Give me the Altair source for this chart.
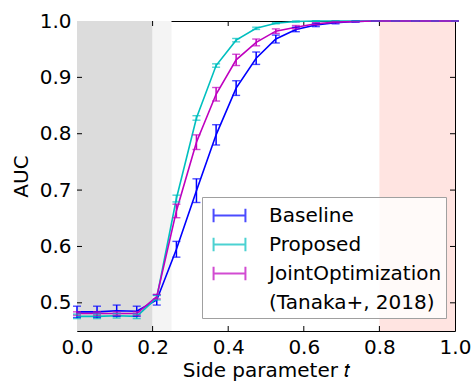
import altair as alt
import pandas as pd

# ---- data ----
t = [0.0, 0.053, 0.105, 0.158, 0.211, 0.263, 0.316, 0.368, 0.421, 0.474,
     0.526, 0.579, 0.632, 0.684, 0.737, 0.789, 0.842, 0.895, 0.947, 1.0]

baseline = [0.484, 0.484, 0.486, 0.485, 0.505, 0.595, 0.699, 0.798, 0.881, 0.934,
            0.968, 0.985, 0.993, 0.997, 0.999, 1.0, 1.0, 1.0, 1.0, 1.0]
baseline_err = [0.010, 0.010, 0.010, 0.009, 0.009, 0.014, 0.021, 0.018, 0.013, 0.011,
                0.007, 0.004, 0.003, 0.002, 0.001, 0.0, 0.0, 0.0, 0.0, 0.0]

proposed = [0.476, 0.476, 0.477, 0.476, 0.509, 0.685, 0.828, 0.921, 0.966, 0.987,
            0.996, 0.999, 1.0, 1.0, 1.0, 1.0, 1.0, 1.0, 1.0, 1.0]
proposed_err = [0.004, 0.004, 0.004, 0.004, 0.004, 0.006, 0.004, 0.003, 0.003, 0.002,
                0.001, 0.001, 0.0, 0.0, 0.0, 0.0, 0.0, 0.0, 0.0, 0.0]

joint = [0.481, 0.481, 0.481, 0.481, 0.511, 0.663, 0.785, 0.870, 0.931, 0.962,
         0.982, 0.989, 0.995, 0.998, 0.999, 1.0, 1.0, 1.0, 1.0, 1.0]
joint_err = [0.003, 0.003, 0.003, 0.003, 0.004, 0.012, 0.013, 0.012, 0.010, 0.006,
             0.004, 0.003, 0.002, 0.001, 0.0, 0.0, 0.0, 0.0, 0.0, 0.0]

series = ["Baseline", "Proposed", "JointOptimization"]
legend_labels = ["Baseline", "Proposed", "JointOptimization", "(Tanaka+, 2018)"]
colors = ["#0000ff", "#00bfbf", "#bf00bf", "transparent"]

span_start = [0.0, 0.2, 0.8]
span_end = [0.2, 0.25, 1.0]
span_color = ["#dcdcdc", "#f4f4f4", "#ffe4e1"]

x_ticks = [0.0, 0.2, 0.4, 0.6, 0.8, 1.0]
y_ticks = [0.5, 0.6, 0.7, 0.8, 0.9, 1.0]
x_minor = [0.2, 0.4, 0.6, 0.8]
y_minor = [0.5, 0.6, 0.7, 0.8, 0.9]

# ---- tables ----
rows = []
for name, vals, errs in zip(series, [baseline, proposed, joint],
                            [baseline_err, proposed_err, joint_err]):
    for ti, v, e in zip(t, vals, errs):
        rows.append({"t": ti, "auc": v, "lo": v - e, "hi": v + e, "method": name})
df = pd.DataFrame(rows)
spans = pd.DataFrame({"x0": span_start, "x1": span_end, "c": span_color})
xt = pd.DataFrame({"v": x_minor})
yt = pd.DataFrame({"v": y_minor})

W, H = 378, 310
FONT = "DejaVu Sans"

xs = alt.Scale(domain=[0, 1], nice=False, zero=False)
ys = alt.Scale(domain=[0.45, 1.0], nice=False, zero=False)
xa = alt.Axis(values=x_ticks, format=".1f", title="Side parameter 𝑡",
              ticks=False, domain=False, grid=False, labelPadding=6,
              titlePadding=3, labelFlush=False)
ya = alt.Axis(values=y_ticks, format=".1f", title="AUC",
              ticks=False, domain=False, grid=False, labelPadding=6,
              titlePadding=8, labelFlush=False)


def X(f):
    return alt.X(f, type="quantitative", scale=xs, axis=xa)


def Y(f):
    return alt.Y(f, type="quantitative", scale=ys, axis=ya)


leg = alt.Legend(
    title=None, orient="none", legendX=125, legendY=176,
    symbolType="M-1.18,0H1.18M-1.18,-0.5V0.5M1.18,-0.5V0.5",
    symbolSize=729, symbolStrokeWidth=2, symbolFillColor="transparent",
    symbolOffset=9, labelOffset=25, rowPadding=3, padding=4,
    fillColor="rgba(255,255,255,0.8)", strokeColor="#a0a0a0", cornerRadius=0,
    labelFont=FONT, labelFontSize=20, labelColor="black", labelLimit=400,
)
col = alt.Color("method:N", scale=alt.Scale(domain=legend_labels, range=colors),
                legend=leg)

bg = alt.Chart(spans).mark_rect().encode(
    x=X("x0"), x2="x1", fill=alt.Fill("c:N", scale=None))

lines = alt.Chart(df).mark_line(strokeWidth=1.6).encode(
    x=X("t"), y=Y("auc"), color=col, detail="method:N")

bars = alt.Chart(df).mark_rule(strokeWidth=1.5).encode(
    x=X("t"), y=Y("lo"), y2="hi", color=col)

cap_lo = alt.Chart(df).mark_tick(orient="horizontal", size=8, thickness=1.4).encode(
    x=X("t"), y=Y("lo"), color=col)
cap_hi = alt.Chart(df).mark_tick(orient="horizontal", size=8, thickness=1.4).encode(
    x=X("t"), y=Y("hi"), color=col)

tick_b = alt.Chart(xt).mark_rule(color="black", strokeWidth=1).encode(
    x=X("v"), y=alt.value(H), y2=alt.value(H - 5))
tick_t = alt.Chart(xt).mark_rule(color="black", strokeWidth=1).encode(
    x=X("v"), y=alt.value(0), y2=alt.value(5))
tick_l = alt.Chart(yt).mark_rule(color="black", strokeWidth=1).encode(
    y=Y("v"), x=alt.value(0), x2=alt.value(5))
tick_r = alt.Chart(yt).mark_rule(color="black", strokeWidth=1).encode(
    y=Y("v"), x=alt.value(W), x2=alt.value(W - 5))

chart = alt.layer(
    bg, tick_b, tick_t, tick_l, tick_r, lines, bars, cap_lo, cap_hi
).properties(
    width=W, height=H,
    autosize=alt.AutoSizeParams(type="none"),
    padding={"left": 77, "top": 21, "right": 17, "bottom": 52},
    background="white",
).configure_view(
    stroke="black", strokeWidth=1
).configure_axis(
    labelFont=FONT, labelFontSize=20, labelColor="black",
    titleFont=FONT, titleFontSize=20, titleFontWeight="normal", titleColor="black",
)

chart.save("out.html", embed_options={"renderer": "svg", "actions": False})
